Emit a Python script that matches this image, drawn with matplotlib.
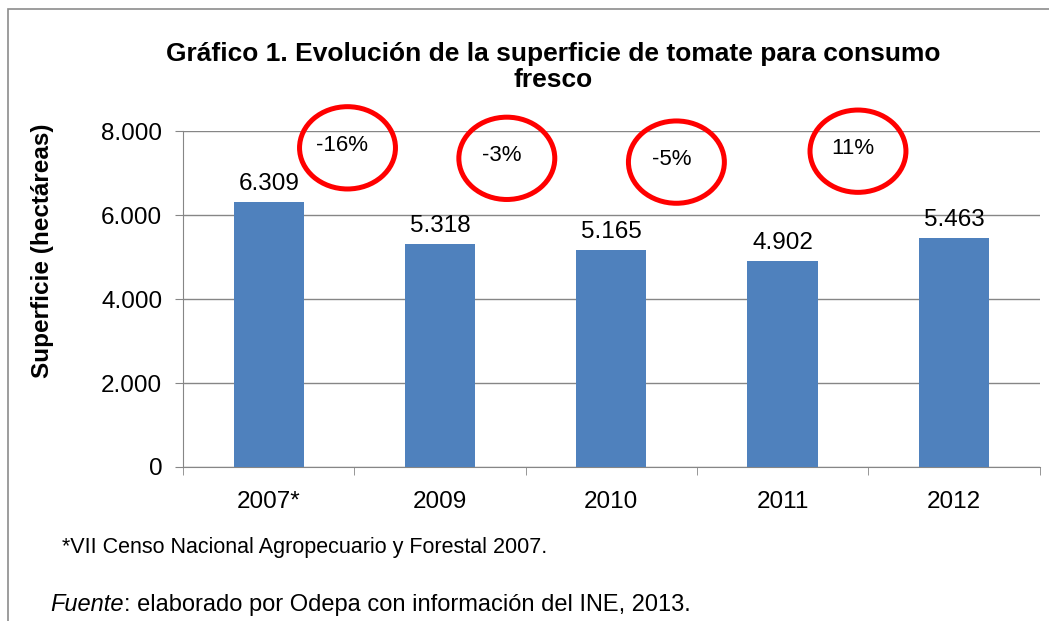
import matplotlib.pyplot as plt
from matplotlib.patches import Ellipse, Rectangle
from matplotlib.ticker import FuncFormatter, FixedLocator

plt.rcParams["font.family"] = ["Liberation Sans", "DejaVu Sans"]

years = ["2007*", "2009", "2010", "2011", "2012"]
hectares = [6309, 5318, 5165, 4902, 5463]
changes = ["-16%", "-3%", "-5%", "11%"]
# centre of each red circle (x in category units, y in hectares)
circle_x = [0.46, 1.39, 2.38, 3.44]
circle_y = [7600, 7350, 7260, 7520]

BAR = "#4F81BD"
GRID = "#868686"


def dots(v, pos=None):
    return f"{int(v):,}".replace(",", ".")


fig = plt.figure(figsize=(10.49, 6.21), dpi=100)
fig.add_artist(Rectangle((8 / 1049, -0.1), 1.2, 1.1 - 9 / 621,
                         transform=fig.transFigure, fill=False,
                         edgecolor="#8c8c8c", lw=1.2))

ax = fig.add_axes([0.1745, 0.248, 0.8165, 0.541])
x = list(range(len(years)))
bars = ax.bar(x, hectares, width=0.41, color=BAR, zorder=3)

for b, v in zip(bars, hectares):
    ax.annotate(dots(v), (b.get_x() + b.get_width() / 2, v),
                xytext=(0, 5), textcoords="offset points",
                ha="center", va="bottom", fontsize=17.5)

ax.set_xlim(-0.5, len(years) - 0.5)
ax.set_ylim(0, 8000)
ax.set_yticks([0, 2000, 4000, 6000, 8000])
ax.yaxis.set_major_formatter(FuncFormatter(dots))
ax.yaxis.grid(True, color=GRID, lw=1, zorder=0)

ax.set_xticks(x)
ax.set_xticklabels(years, fontsize=17.5)
ax.xaxis.set_minor_locator(FixedLocator([i - 0.5 for i in range(len(years) + 1)]))
ax.tick_params(axis="x", which="major", length=0, pad=17)
ax.tick_params(axis="x", which="minor", length=6, color=GRID)
ax.tick_params(axis="y", length=6, color=GRID, labelsize=17.5, pad=9)

for s in ["top", "right"]:
    ax.spines[s].set_visible(False)
for s in ["left", "bottom"]:
    ax.spines[s].set_color(GRID)

ax.set_ylabel("Superficie (hectáreas)", fontsize=17.5, fontweight="bold")
ax.yaxis.set_label_coords(-0.151, 0.643)

for cx, cy, t in zip(circle_x, circle_y, changes):
    ax.add_patch(Ellipse((cx, cy), 0.56, 1960, fill=False, edgecolor="#FF0000",
                         lw=3.6, clip_on=False, zorder=5))
    ax.text(cx - 0.03, cy + 60, t, ha="center", va="center", fontsize=16, zorder=6)

fig.text(0.527, 0.892, "Gráfico 1. Evolución de la superficie de tomate para consumo\nfresco",
         ha="center", va="center", fontsize=19, fontweight="bold", linespacing=1.1)

fig.text(0.059, 0.118, "*VII Censo Nacional Agropecuario y Forestal 2007.",
         ha="left", va="center", fontsize=15.5)
src = fig.text(0.048, 0.026, "Fuente", ha="left", va="center", fontsize=17, style="italic")
fig.add_artist(plt.Annotation(": elaborado por Odepa con información del INE, 2013.",
                              xy=(1, 0.5), xycoords=src, ha="left", va="center",
                              fontsize=17))

fig.savefig("out.png", dpi=100)
